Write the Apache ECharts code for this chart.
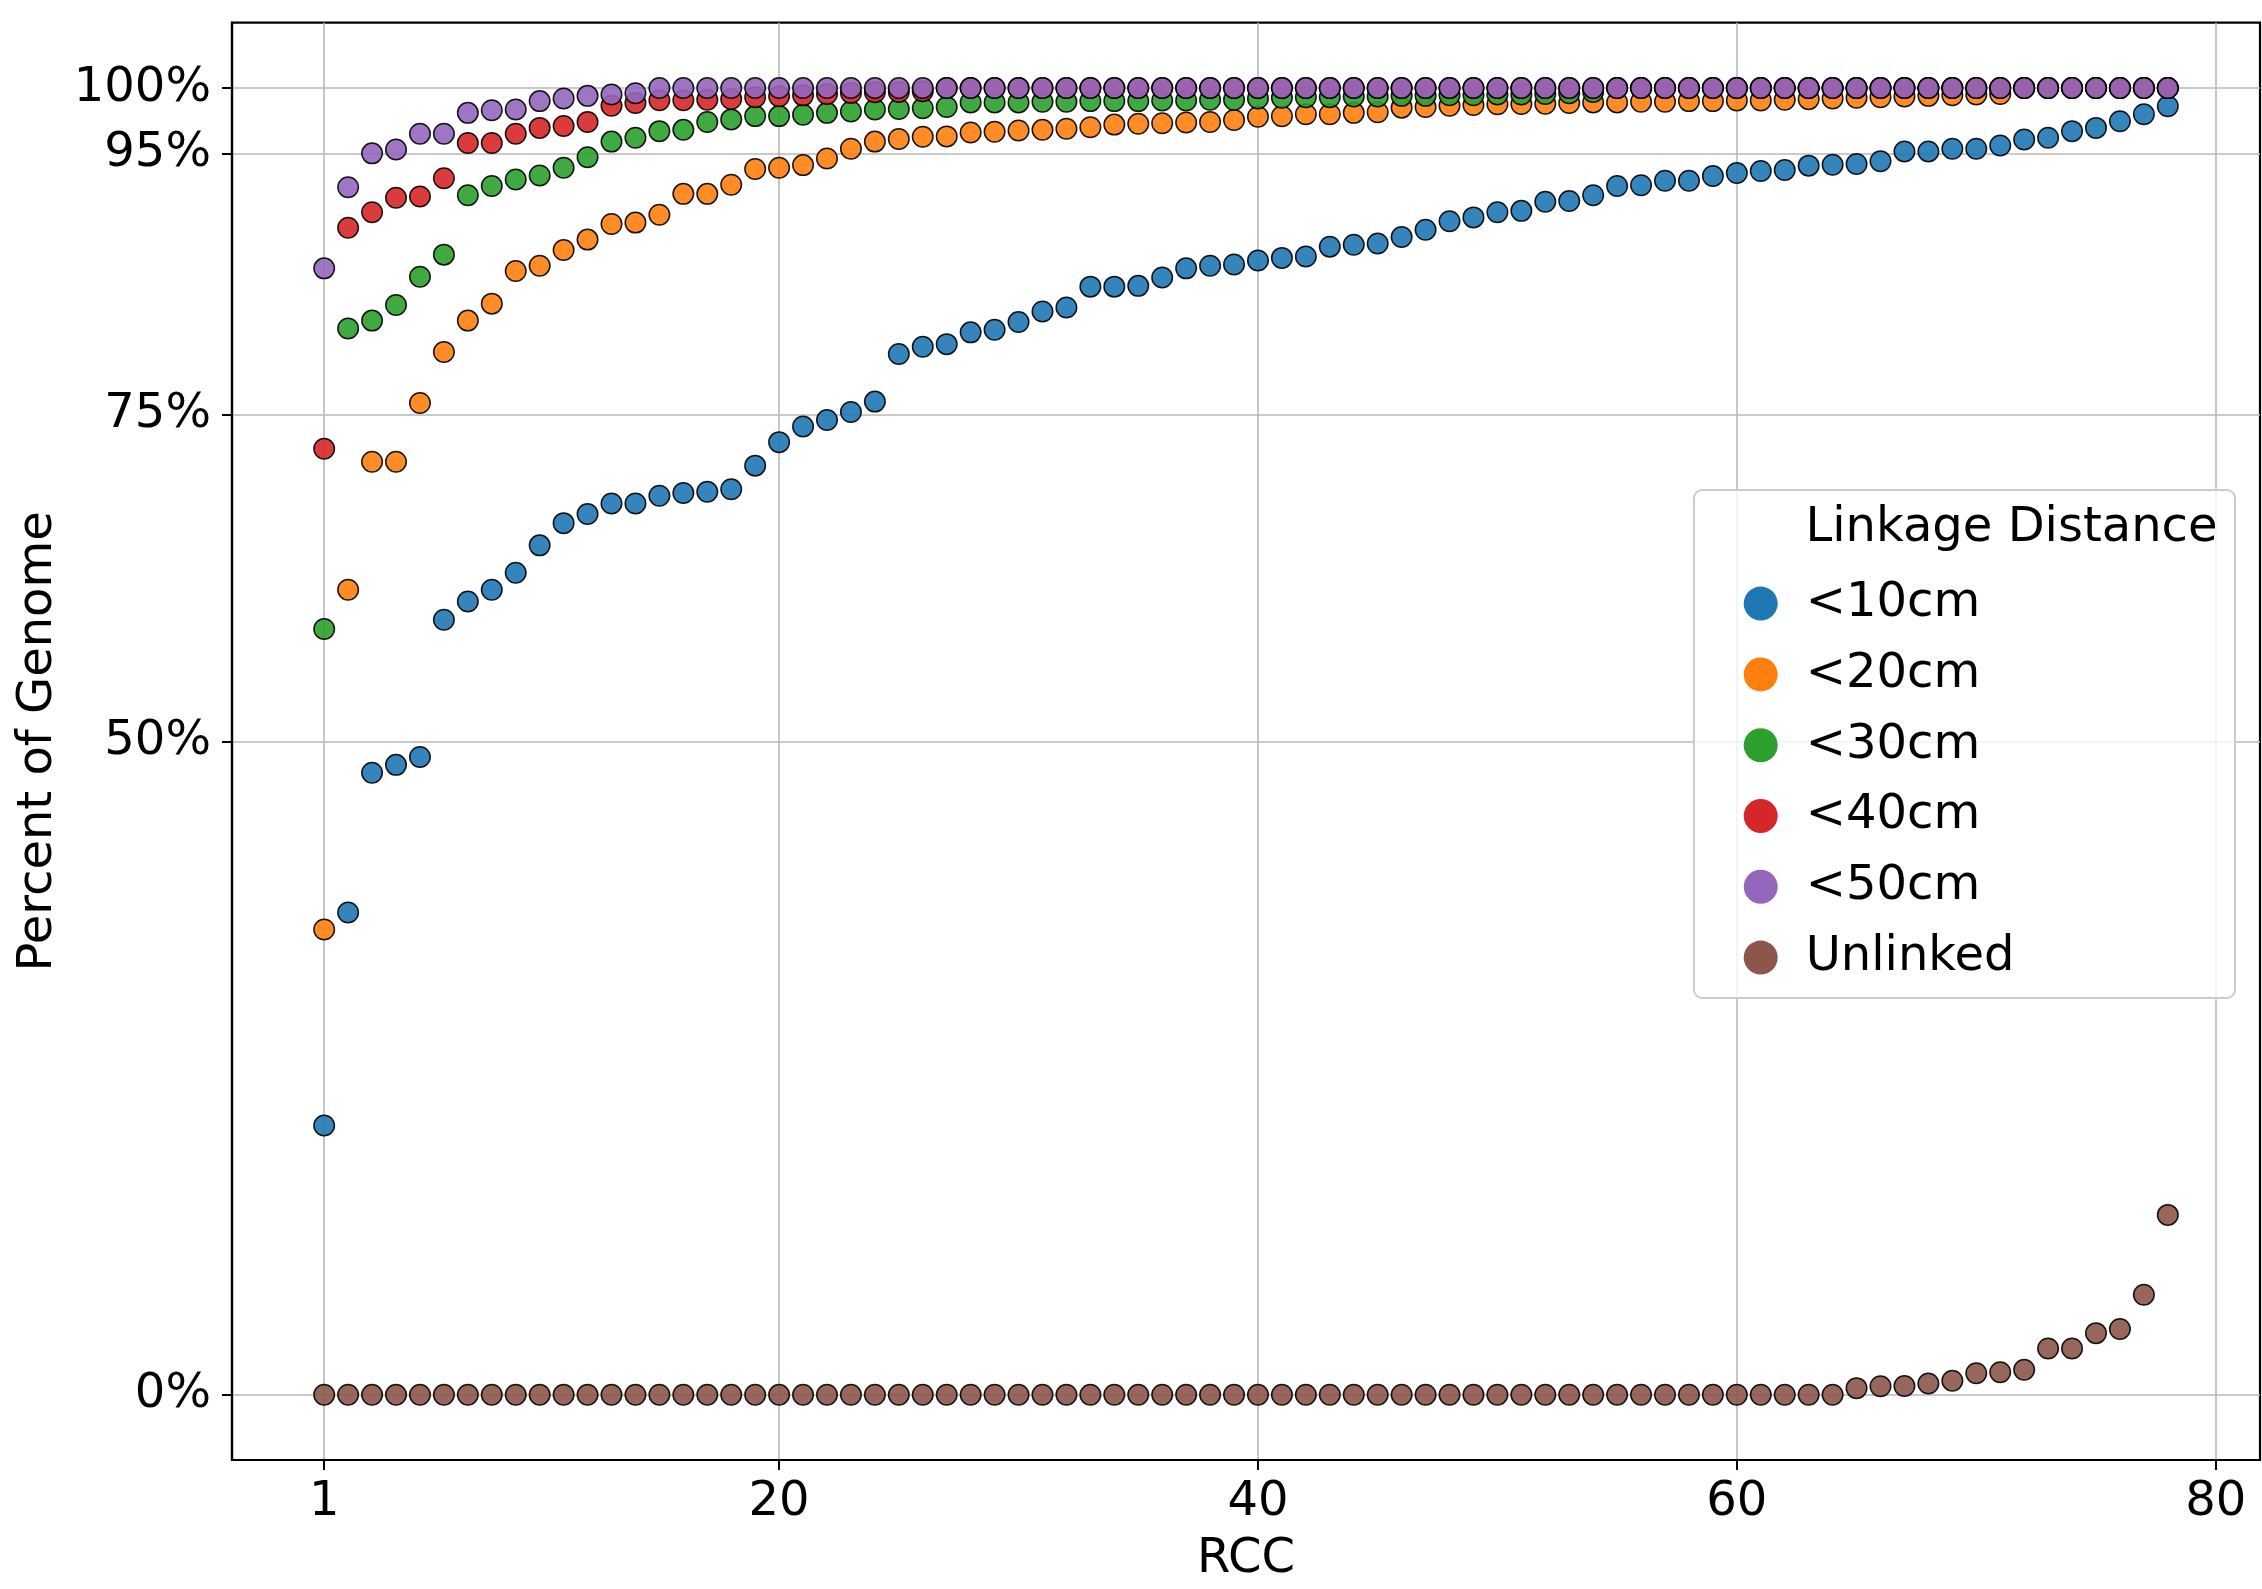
<!DOCTYPE html>
<html><head><meta charset="utf-8">
<script src="https://cdn.jsdelivr.net/npm/echarts@6/dist/echarts.min.js"></script>
<style>html,body{margin:0;padding:0;background:#fff}#c{width:2262px;height:1589px}</style>
</head><body><div id="c"></div>
<script>
const rcc = [1,2,3,4,5,6,7,8,9,10,11,12,13,14,15,16,17,18,19,20,21,22,23,24,25,26,27,28,29,30,31,32,33,34,35,36,37,38,39,40,41,42,43,44,45,46,47,48,49,50,51,52,53,54,55,56,57,58,59,60,61,62,63,64,65,66,67,68,69,70,71,72,73,74,75,76,77,78];
const xTicks = [1, 20, 40, 60, 80];
const yTicks = [0, 50, 75, 95, 100];
const seriesNames = ['<10cm', '<20cm', '<30cm', '<40cm', '<50cm', 'Unlinked'];
const lt10 = [20.6,36.9,47.6,48.2,48.8,59.3,60.7,61.6,62.9,65.0,
 66.7,67.4,68.2,68.2,68.8,69.0,69.1,69.3,71.1,72.9,
 74.1,74.6,75.2,76.0,79.65,80.2,80.4,81.3,81.5,82.1,
 82.9,83.2,84.8,84.8,84.86,85.5,86.2,86.4,86.5,86.8,
 87.0,87.1,87.86,88.0,88.1,88.6,89.15,89.8,90.1,90.5,
 90.6,91.3,91.36,91.8,92.5,92.56,92.9,92.9,93.27,93.5,
 93.65,93.73,94.06,94.13,94.18,94.4,95.15,95.15,95.35,95.35,
 95.6,96.06,96.19,96.7,96.95,97.46,98.0,98.6];
const lt20 = [35.6,61.6,71.4,71.4,75.9,79.8,82.2,83.5,86.0,86.4,
 87.6,88.4,89.6,89.7,90.3,91.9,91.9,92.6,93.8,93.9,
 94.1,94.6,95.35,95.9,96.1,96.27,96.3,96.6,96.65,96.75,
 96.8,96.88,97.0,97.2,97.26,97.3,97.36,97.4,97.56,97.8,
 97.84,97.99,98.0,98.1,98.15,98.5,98.55,98.65,98.7,98.76,
 98.78,98.8,98.85,98.9,98.9,98.95,98.95,99.0,99.0,99.05,
 99.05,99.1,99.15,99.2,99.25,99.3,99.35,99.4,99.45,99.5,
 99.55,100,100,100,100,100,100,100];
const lt30 = [58.6,81.6,82.2,83.4,85.55,87.25,91.8,92.5,93.0,93.3,
 93.9,94.7,95.9,96.2,96.7,96.8,97.4,97.6,97.85,97.85,
 97.95,98.1,98.2,98.35,98.4,98.45,98.55,98.9,98.9,98.9,
 98.95,98.95,99.0,99.0,99.0,99.05,99.05,99.1,99.1,99.2,
 99.25,99.3,99.3,99.35,99.35,99.4,99.4,99.45,99.45,99.5,
 99.5,99.55,99.6,99.7,100,100,100,100,100,100,
 100,100,100,100,100,100,100,100,100,100,
 100,100,100,100,100,100,100,100];
const lt40 = [72.4,89.3,90.5,91.6,91.7,93.1,95.8,95.8,96.5,96.95,
 97.1,97.4,98.65,98.86,99.06,99.06,99.1,99.16,99.29,99.37,
 99.44,99.54,99.62,99.67,99.7,99.75,100,100,100,100,
 100,100,100,100,100,100,100,100,100,100,
 100,100,100,100,100,100,100,100,100,100,
 100,100,100,100,100,100,100,100,100,100,
 100,100,100,100,100,100,100,100,100,100,
 100,100,100,100,100,100,100,100];
const lt50 = [86.2,92.4,95.0,95.3,96.5,96.5,98.1,98.3,98.35,99.0,
 99.2,99.4,99.5,99.6,100,100,100,100,100,100,
 100,100,100,100,100,100,100,100,100,100,
 100,100,100,100,100,100,100,100,100,100,
 100,100,100,100,100,100,100,100,100,100,
 100,100,100,100,100,100,100,100,100,100,
 100,100,100,100,100,100,100,100,100,100,
 100,100,100,100,100,100,100,100];
const unlinked = [0,0,0,0,0,0,0,0,0,0,
 0,0,0,0,0,0,0,0,0,0,
 0,0,0,0,0,0,0,0,0,0,
 0,0,0,0,0,0,0,0,0,0,
 0,0,0,0,0,0,0,0,0,0,
 0,0,0,0,0,0,0,0,0,0,
 0,0,0,0,0.5,0.65,0.67,0.85,1.06,1.64,
 1.72,1.9,3.54,3.54,4.71,5.02,7.64,13.76];
const colors = ['#1f77b4', '#ff7f0e', '#2ca02c', '#d62728', '#9467bd', '#8c564b'];
const allValues = [lt10, lt20, lt30, lt40, lt50, unlinked];

const FONT = 'DejaVu Sans';
const txt = {fontFamily: FONT, fontSize: 48, color: '#000'};

const chart = echarts.init(document.getElementById('c'), null, {renderer: 'canvas'});
chart.setOption({
  animation: false,
  backgroundColor: '#fff',
  grid: {left: 232, top: 22.7, right: 2, bottom: 122.9, show: true, borderColor: '#000', borderWidth: 2.2, backgroundColor: 'transparent'},
  xAxis: {
    type: 'value', min: -2.85, max: 81.85,
    name: 'RCC', nameLocation: 'middle', nameGap: 76, nameTextStyle: txt,
    axisLine: {show: true, onZero: false, lineStyle: {color: '#000', width: 2.2}},
    axisTick: {show: true, customValues: xTicks, length: 10, lineStyle: {color: '#000', width: 2}},
    axisLabel: {customValues: xTicks, margin: 19, ...txt},
    splitLine: {show: true, lineStyle: {color: '#b8b8b8', width: 1.6}}
  },
  yAxis: {
    type: 'value', min: -5, max: 105,
    name: 'Percent of Genome', nameLocation: 'middle', nameGap: 168, nameTextStyle: txt,
    axisLine: {show: true, onZero: false, lineStyle: {color: '#000', width: 2.2}},
    axisTick: {show: true, customValues: yTicks, length: 10, lineStyle: {color: '#000', width: 2}},
    axisLabel: {customValues: yTicks, margin: 21, formatter: v => v + '%', ...txt},
    splitLine: {show: true, lineStyle: {color: '#b8b8b8', width: 1.6}}
  },
  legend: {
    orient: 'vertical', left: 1743.7, top: 579.6, padding: 0,
    itemWidth: 34, itemHeight: 34, itemGap: 22.8, icon: 'circle',
    data: seriesNames,
    itemStyle: {borderWidth: 0, borderColor: 'transparent', opacity: 1},
    textStyle: {fontFamily: FONT, fontSize: 48, color: '#000', lineHeight: 48, padding: [0, 0, 0, 23]},
    z: 10
  },
  graphic: [
    {type: 'rect', z: 9, shape: {x: 1694, y: 490, width: 541, height: 508, r: 8},
     style: {fill: 'rgba(255,255,255,0.8)', stroke: '#cccccc', lineWidth: 2}},
    {type: 'text', z: 10, x: 1805.5, y: 529,
     style: {text: 'Linkage Distance', font: '48px "DejaVu Sans"', fill: '#000', textVerticalAlign: 'middle', textAlign: 'left'}}
  ],
  series: seriesNames.map((name, s) => ({
    name, type: 'scatter', symbol: 'circle', symbolSize: 20.5,
    data: rcc.map((x, i) => [x, allValues[s][i]]),
    itemStyle: {color: colors[s], borderColor: '#000', borderWidth: 1.5, opacity: 0.9},
    z: 2 + s * 0.01
  }))
});
</script></body></html>
